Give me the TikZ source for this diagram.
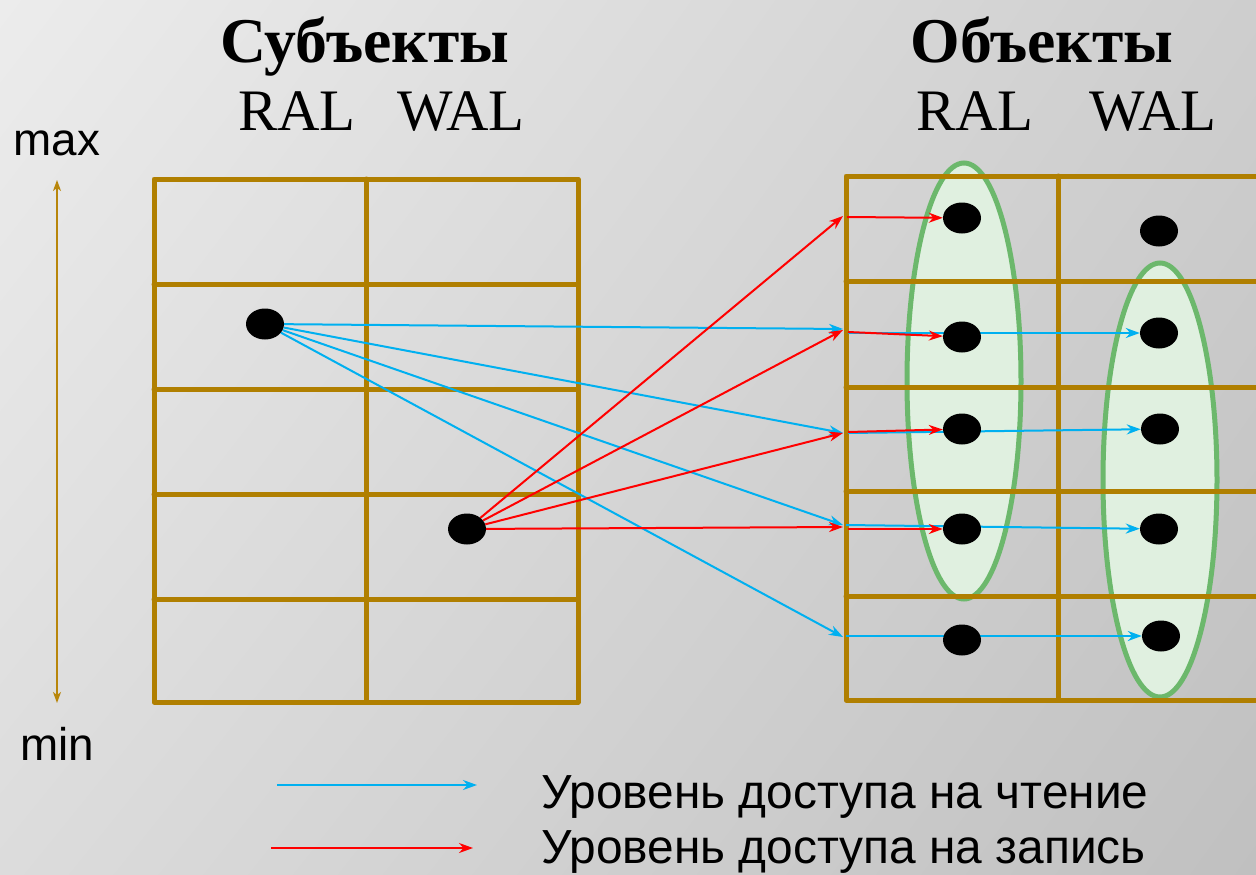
\documentclass[tikz,border=0pt]{standalone}
\usepackage{fontspec}
\setmainfont{Liberation Serif}
\newfontfamily\sansf{Liberation Sans}
\usetikzlibrary{arrows.meta,shapes.geometric,shadings}
\definecolor{gridbrown}{RGB}{176,127,0}
\definecolor{axisbrown}{RGB}{184,134,11}
\definecolor{readblue}{RGB}{0,176,240}
\definecolor{writered}{RGB}{255,0,0}
\definecolor{setgreen}{RGB}{108,184,108}
\definecolor{setfill}{RGB}{224,240,224}
\definecolor{bgA}{RGB}{236,236,236}
\definecolor{bgB}{RGB}{206,206,206}
\definecolor{bgC}{RGB}{220,220,220}
\definecolor{bgD}{RGB}{192,192,192}
\pgfdeclarelayer{bg}
\pgfdeclarelayer{fg}
\pgfsetlayers{bg,main,fg}
\begin{document}
\begin{tikzpicture}[x=1bp,y=-1bp,
  cell/.style={draw=gridbrown,line width=5bp,line cap=round,line join=round},
  dot/.style={ellipse,fill=black,minimum width=38bp,minimum height=31bp,inner sep=0pt},
  readarrow/.style={draw=readblue,line width=2bp,-{Stealth[length=14bp,width=10bp,inset=4.5bp]}},
  writearrow/.style={draw=writered,line width=2bp,-{Stealth[length=14bp,width=10bp,inset=4.5bp]}},
  levelset/.style={draw=setgreen,fill=setfill,line width=5bp},
  title/.style={font=\fontsize{64}{68}\selectfont\bfseries,anchor=base},
  colhead/.style={font=\fontsize{59}{62}\selectfont,anchor=base},
  sidelabel/.style={font=\sansf\fontsize{46}{50}\selectfont,anchor=base},
  legendtext/.style={font=\sansf\fontsize{48}{52}\selectfont,anchor=base west}]

\useasboundingbox (0,0) rectangle (1256,875);

\begin{pgfonlayer}{bg}
  % background gradient
  \shade[upper left=bgA,upper right=bgB,lower left=bgC,lower right=bgD]
    (0,0) rectangle (1256,875);
  % level sets of objects
  \draw[levelset] (964,381) ellipse [x radius=57,y radius=218];
  \draw[levelset] (1160,480) ellipse [x radius=57,y radius=217];
  % subjects table
  \draw[cell] (154,179) rectangle (578,702);
  \foreach \y in {284,389,494,599} \draw[cell] (154,\y) -- (578,\y);
  \draw[cell] (366,179) -- (366,702);
  % objects table
  \draw[cell] (1260,176) -- (846,176) -- (846,700) -- (1260,700);
  \foreach \y in {281,387,491,596} \draw[cell] (846,\y) -- (1260,\y);
  \draw[cell] (1058,176) -- (1058,700);
\end{pgfonlayer}

% headings
\node[title] (subj) at (365,62) {Субъекты};
\node[title] (obj) at (1042,62) {Объекты};
\node[colhead] (sral) at (297,130) {RAL};
\node[colhead] (swal) at (461,130) {WAL};
\node[colhead] (oral) at (975,130) {RAL};
\node[colhead] (owal) at (1153,130) {WAL};

% level scale
\node[sidelabel] (max) at (57,155) {max};
\node[sidelabel] (min) at (57,760) {min};
\coordinate (top) at (57,180);
\coordinate (bot) at (57,703);
\draw[axisbrown,line width=1.5bp,{Stealth[length=11bp,width=8bp,inset=3bp]}-{Stealth[length=11bp,width=8bp,inset=3bp]}] (top) -- (bot);

% subjects and objects
\begin{pgfonlayer}{fg}
  \node[dot] (s1) at (265,324) {};
  \node[dot] (s2) at (467,529) {};
  \node[dot] (r1) at (962,218) {};
  \node[dot] (r2) at (962,337) {};
  \node[dot] (r3) at (962,429) {};
  \node[dot] (r4) at (962,529) {};
  \node[dot] (r5) at (962,640) {};
  \node[dot] (w1) at (1159,231) {};
  \node[dot] (w2) at (1159,333) {};
  \node[dot] (w3) at (1160,429) {};
  \node[dot] (w4) at (1159,529) {};
  \node[dot] (w5) at (1161,636) {};
\end{pgfonlayer}

% entry points on the objects table
\coordinate (e1) at (843,216);
\coordinate (e2) at (843,330);
\coordinate (e3) at (843,433);
\coordinate (e4) at (843,527);
\coordinate (b2) at (843,329);
\coordinate (b3) at (843,433);
\coordinate (b4) at (843,525);
\coordinate (b5) at (843,637);
\coordinate (f1) at (847,217);
\coordinate (f2) at (848,332);
\coordinate (f3) at (848,432);
\coordinate (f4) at (848,529);
\coordinate (g2) at (848,333);
\coordinate (g3) at (848,433);
\coordinate (g4) at (846,525);
\coordinate (g5) at (846,636);

% read access
\foreach \t in {b2,b3,b4,b5} \draw[readarrow] (s1) -- (\t);
\draw[readarrow] (g2) -- (w2);
\draw[readarrow] (g3) -- (w3);
\draw[readarrow] (g4) -- (w4);
\draw[readarrow] (g5) -- (w5);

% write access
\foreach \t in {e1,e2,e3,e4} \draw[writearrow] (s2) -- (\t);
\draw[writearrow] (f1) -- (r1);
\draw[writearrow] (f2) -- (r2);
\draw[writearrow] (f3) -- (r3);
\draw[writearrow] (f4) -- (r4);

% legend
\coordinate (la) at (277,785);
\coordinate (lb) at (477,785);
\coordinate (lc) at (271,848);
\coordinate (ld) at (473,848);
\draw[readarrow] (la) -- (lb);
\draw[writearrow] (lc) -- (ld);
\node[legendtext] (lread) at (538,808) {Уровень доступа на чтение};
\node[legendtext] (lwrite) at (538,863) {Уровень доступа на запись};
\end{tikzpicture}
\end{document}
